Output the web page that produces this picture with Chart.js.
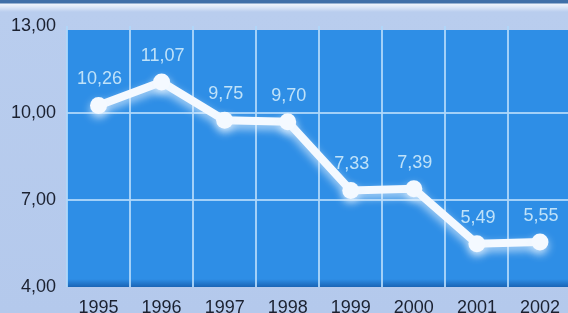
<!DOCTYPE html>
<html lang="de">
<head>
<meta charset="UTF-8">
<title>1995 - 2002</title>
<script src="https://cdn.jsdelivr.net/npm/chart.js"></script>
<style>
    html, body {
        margin: 0;
        padding: 0;
        width: 568px;
        height: 313px;
        overflow: hidden;
        background: linear-gradient(to bottom, #3f6fa8 0px, #3f6fa8 3px, #eef4fc 4px, #dce7f8 7px, #b9cdee 12px, #b4c9ec 100%);
        font-family: 'Liberation Sans', Arial, sans-serif;
    }
    #chart {
        display: block;
    }
</style>
</head>
<body>
<canvas id="chart" width="580" height="313"></canvas>

<script>
    // Werte aus der Grafik
    const years = ['1995', '1996', '1997', '1998', '1999', '2000', '2001', '2002'];
    const values = [10.26, 11.07, 9.75, 9.70, 7.33, 7.39, 5.49, 5.55];
    const yTicks = [4, 7, 10, 13];

    const fmt = v => v.toFixed(2).replace('.', ',');

    // blaue Zeichenfläche hinter dem Gitter
    const plotBackground = {
        id: 'plotBackground',
        beforeDraw(chart) {
            const { ctx, chartArea: a } = chart;
            ctx.save();
            ctx.fillStyle = '#2e8ee6';
            ctx.fillRect(a.left, a.top + 4, a.right - a.left, a.bottom - a.top - 4);
            const g = ctx.createLinearGradient(0, a.bottom - 8, 0, a.bottom);
            g.addColorStop(0, 'rgba(20,90,170,0)');
            g.addColorStop(1, 'rgba(20,90,170,0.8)');
            ctx.fillStyle = g;
            ctx.fillRect(a.left, a.bottom - 8, a.right - a.left, 8);
            ctx.restore();
        }
    };

    // Schatten der Linie + Wertbeschriftung
    const lineGlow = {
        id: 'lineGlow',
        beforeDatasetsDraw(chart) {
            const ctx = chart.ctx;
            ctx.save();
            ctx.shadowColor = 'rgba(235,245,255,0.75)';
            ctx.shadowBlur = 9;
            ctx.shadowOffsetY = 4;
        },
        afterDatasetsDraw(chart) {
            const ctx = chart.ctx;
            ctx.restore();
            const meta = chart.getDatasetMeta(0);
            ctx.save();
            ctx.font = '18px "Liberation Sans", Arial, sans-serif';
            ctx.fillStyle = '#bfe2f9';
            ctx.textAlign = 'center';
            ctx.textBaseline = 'middle';
            meta.data.forEach((pt, i) => {
                ctx.fillText(fmt(values[i]), pt.x + 1, pt.y - 26);
            });
            ctx.restore();
        }
    };

    new Chart(document.getElementById('chart'), {
        type: 'line',
        data: {
            labels: years,
            datasets: [{
                data: values,
                borderColor: '#f4f9ff',
                borderWidth: 8,
                pointRadius: 8.5,
                pointBackgroundColor: '#f4f9ff',
                pointBorderWidth: 0,
                tension: 0
            }]
        },
        options: {
            responsive: false,
            animation: false,
            layout: { padding: { top: 26, right: 0, left: 0, bottom: 0 } },
            plugins: {
                legend: { display: false },
                tooltip: { enabled: false }
            },
            scales: {
                x: {
                    offset: true,
                    grid: {
                        offset: true,
                        color: 'rgba(175,215,250,0.9)',
                        lineWidth: 2,
                        drawTicks: false
                    },
                    border: { display: false },
                    ticks: {
                        color: '#1b2130',
                        font: { size: 18, family: 'Liberation Sans' },
                        padding: 10,
                        maxRotation: 0
                    },
                    afterFit(scale) { scale.height = 26; }
                },
                y: {
                    min: 4,
                    max: 13,
                    afterBuildTicks(scale) {
                        scale.ticks = yTicks.map(v => ({ value: v }));
                    },
                    grid: {
                        color: ctx => (ctx.tick.value === 4 || ctx.tick.value === 13) ? 'rgba(0,0,0,0)' : 'rgba(175,215,250,0.9)',
                        lineWidth: 2,
                        drawTicks: false
                    },
                    border: { display: false },
                    ticks: {
                        color: '#1b2130',
                        font: { size: 18, family: 'Liberation Sans' },
                        padding: 11,
                        callback: v => fmt(v)
                    },
                    afterFit(scale) { scale.width = 67; }
                }
            }
        },
        plugins: [plotBackground, lineGlow]
    });
</script>
</body>
</html>
